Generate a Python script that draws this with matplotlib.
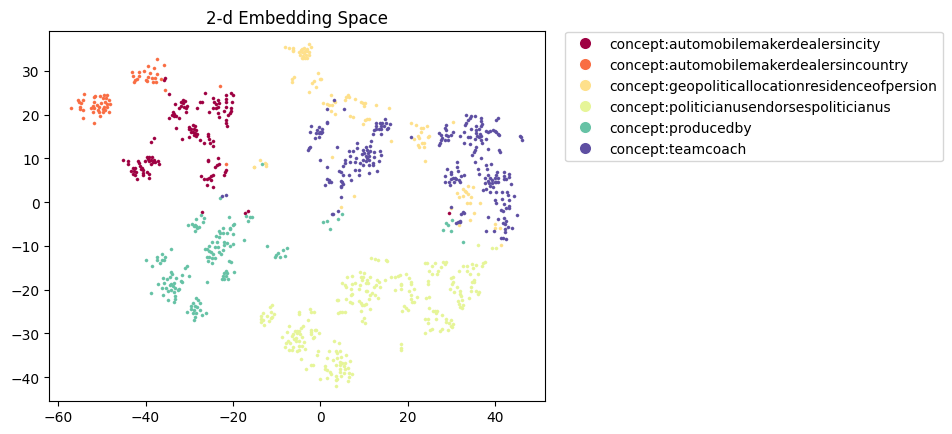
import numpy as np
import matplotlib
matplotlib.use("Agg")
import matplotlib.pyplot as plt
from matplotlib.lines import Line2D

# relation names shown in the legend
labels = ['concept:automobilemakerdealersincity', 'concept:automobilemakerdealersincountry',
          'concept:geopoliticallocationresidenceofpersion', 'concept:politicianusendorsespoliticianus',
          'concept:producedby', 'concept:teamcoach']
colors = ['#9e0142', '#f96d43', '#fee08b', '#e6f598', '#66c2a5', '#5e4fa2']

# points (x, y)
city = [(-35.5,28.3),(-35.8,27.9),(-34.7,24.6),(-26.5,24.9),(-20.4,25.0),(-20.1,24.4),(-21.5,24.4),(-24.6,23.8),(-21.6,23.5),(-20.3,22.8),(-23.5,23.3),(-24.3,22.9),(-23.1,22.6),(-24.0,22.5),(-21.7,22.8),(-23.9,21.5),(-24.5,21.5),(-23.5,21.8),(-21.6,21.8),(-20.4,21.5),(-20.4,20.9),(-22,20.8),(-23.4,20.4),(-25.4,20.5),(-23.3,19.5),(-20.7,20.3),(-21.1,19.9),(-21.7,18.8),(-21.6,18.0),(-21.3,17.4),
        (-27.5,22.8),(-27.2,22.8),(-28.3,21.5),(-33.2,22.3),(-31.5,23.4),(-31.9,22.9),(-31,23.1),(-31.5,22.6),(-31.9,22),(-31.3,21.8),(-30.6,22),(-32.4,21.5),(-30.7,21.4),(-30.7,20.6),(-33.8,20.5),(-33.4,20.1),(-33.9,20),(-33,19.6),(-33.6,19.6),(-34.6,19.2),(-32.3,19.2),(-33,16.9),(-31.7,14.5),
        (-30,17.2),(-29.2,17.6),(-28.7,17.3),(-30,16.7),(-29.5,16.8),(-29,16.7),(-28.4,16.5),(-29.7,16.1),(-29.2,15.9),(-28.7,15.8),(-28.2,15.5),(-29,15.3),(-30.1,14.9),(-28.4,15.1),(-27.5,14.2),(-26.6,13.6),(-25.8,15.6),(-25.8,15),(-25.6,14.5),(-24.6,14),(-25.2,13.6),(-24.5,12.9),(-38,14.6),(-38.7,13.7),
        (-45.1,9.6),(-44.1,9.4),(-43.9,8.7),(-41.7,9.4),(-41.4,8.9),(-41.2,8.3),(-39.7,10.2),(-39.1,10.4),(-38.5,10.3),(-39.5,9.8),(-38.7,9.7),(-38,9.7),(-40.2,9.5),(-39.1,9.3),(-38.4,9.1),(-37.8,9.2),(-37.1,9.5),(-37,8.7),(-38.7,8.8),(-40.7,7.7),(-41,7.5),(-40.5,7.3),(-42.9,7.7),(-42.4,7.7),(-43.3,7),(-42.7,7),(-42.2,6.9),(-42.9,6.5),(-42.4,6.3),(-40.5,6.6),(-39.7,6.8),(-39.3,6.5),(-40.5,6.2),(-42,5.3),(-39.2,5.5),
        (-25.8,9.6),(-25.7,9.3),(-23.4,10),(-23.1,8.8),(-23.6,8.5),(-24.1,8.1),(-21.7,7.3),(-21.9,6.8),(-22,6.2),(-27.4,5.9),(-24.5,6.2),(-25,5.9),(-25.6,5.6),(-25.9,5.3),(-26.7,5.2),(-25.1,5),(-25.9,3.9),(-24.5,3.5),(-27.1,-2.3),(-17.2,-2.4),(-16.5,-2.1),(29.3,-2.5)]

country = [(-37.4,32.7),(-35.8,31.4),(-39.4,31.1),(-38.1,30.6),(-40.3,30),(-43.1,29.8),(-41.6,29.7),(-39,29.5),(-42.8,28.8),(-41.4,28.8),(-37.3,29.2),(-39.5,28.6),(-42,28.2),(-38.6,28.3),(-37.9,28.4),(-36.4,28.1),(-42.3,27.9),(-39.9,27.8),(-38.2,27.4),(-37.6,27.5),(-42.6,27.5),(-39.7,27.6),(-35.6,25.6),(-23,26.6),
           (-54.1,24.7),(-51.5,24.3),(-51.7,23.9),(-50.3,24.2),(-49.6,24.4),(-48.7,24.4),(-49.8,23.7),(-49,23.7),(-48.3,23.4),(-55.5,23.3),(-54.2,23.4),(-54.8,22.6),(-55,21.8),(-51.7,22.8),(-50.1,22.7),(-49.2,22.9),(-48.7,22.4),(-48.1,22.4),(-52.1,22),(-51.2,22.1),(-50.6,21.8),(-49.4,21.8),(-48.7,21.8),(-52.5,21.5),(-51.7,21.4),(-50.9,21.1),(-49.8,21.2),(-49.2,21),(-48.3,20.6),(-54.4,21.1),(-55,21.2),(-57,21.4),(-51.9,20.6),(-50.7,20.6),(-49.8,20.6),(-50.5,19.6),(-54.2,19.1),(-51.7,18),(-55.3,22.9),(-21.6,8.7)]

residence = [(-8.1,35.5),(-7.3,35.2),(-6.3,35.2),(-6.3,34.8),(-6.3,34.4),(-2.7,36.1),(-2.1,35.5),(-4.8,34.3),(-4.3,35),(-3.7,35.3),(-3.1,35),(-2.7,34.3),(-4.6,33.6),(-3.9,33.4),(-3.2,33.6),(-2.7,33.5),(-4.2,34.2),(-3.5,34.4),(-4.3,33),(-3.5,32.8),(-3,33),(-3.7,34),(-4.4,34.7),(-3,34.6),(-4,32.9),
             (-6.1,28.6),(-6.5,28.1),(-6.6,27.5),(-0.5,29.4),(-1.4,27.7),(-2,27.1),(-0.2,28.1),(0.1,28.2),(-1.1,26.2),(-2.7,25.2),(2.4,24.5),(0.5,22.7),(1.5,22.3),(2,22.2),(2.6,22.2),(3.4,22.8),(3.2,23.1),(2.4,20.9),(3.3,20.1),(5.5,23.4),(5.9,23.9),(6.2,24.4),(6.6,24),(7.8,23.6),(9.3,22.9),(10.2,22.6),(9.7,22.6),(10,21.9),(12.6,22.2),(15.7,21.6),(6.8,19.6),(7.5,19.4),(10.1,18.8),(10.6,19),(11.1,19),(9.7,17.8),(16.2,13.9),(2.7,10.2),
             (20.8,18),(21.8,17.7),(22.9,17),(23.5,16.9),(24.4,17.4),(23,15.9),(22.3,15),(22.5,14.7),(24.8,15),(24.6,14.8),(21.3,14.5),(22.3,13.1),(23.2,13.5),(23.7,13.5),(22.5,12.7),(23.7,12.7),(23.9,9.4),(30.3,18.2),
             (33.8,3.7),(34.8,3.5),(32.6,3),(33,2.6),(31.3,2.1),(33.3,2.2),(33.7,1.8),(31.6,1.2),(32.5,1.4),(34.3,1.2),(33.5,-0.3),(34.1,-0.3),(36.5,-0.2),(35.1,-2.4),(34.2,-4),(29.9,-1.4),(31.6,-5.2),(39.8,-5),(39.8,-5.8),(41,-5.8),(41.3,-9.8),(7.6,1.3),(4.8,-1),
             (-13.8,9.7),(-12.6,8.9),(-12.4,8.3),(-12.5,8.6),(-15.3,8.1),(-15.1,8.1)]

endorses = [(35.9,-9.8),(39.1,-10.4),(40.2,-10.4),(11.5,-12.7),(12.4,-13),(13.2,-13.2),(14.9,-13.3),(15.3,-13.4),(23.8,-14),(24.4,-14),(26.1,-14),(25.6,-14.5),(27.9,-13.6),(28.8,-13.7),(28.5,-14.2),(27.6,-14.9),(26.8,-15.8),(26.7,-16.4),(24.8,-15.7),(25.6,-16.5),
            (37.7,-13.6),(37.2,-14),(37,-14.5),(34.7,-14.1),(35.5,-14.3),(32.6,-14.7),(33.4,-14.7),(34.9,-15.1),(31.7,-15.8),(33.6,-15.8),(34.1,-16.3),(35.9,-16.4),(30.3,-17),(29.9,-17.4),(35.1,-17.7),(34.7,-18.3),(35.2,-18.3),(30.2,-18.3),(30,-18.8),(31.1,-19.4),(34.5,-19.4),(34.5,-20.2),(29.6,-19.8),(35.5,-20.2),(36.3,-20.6),(30.6,-20.6),(31.9,-20.4),(32,-21),(35.9,-21),(32.2,-21.5),(34,-21.9),(31.5,-22.5),(32.4,-22.3),(31.7,-23.2),(32.6,-23.4),(31.9,-24),(32.4,-24.2),(24.6,-18.1),(24.6,-18.7),
            (16.2,-17.1),(17,-17),(17.7,-16.9),(18.2,-16.6),(19.6,-16.3),(20.3,-17.4),(20.6,-18.3),(20.7,-18.7),(18.4,-18.7),(18.4,-19),(17.1,-20),(18.4,-19.9),(20.2,-20.2),(21.3,-19.9),(20.8,-21.2),(22,-21.6),(20.7,-22.2),(20.9,-22.7),(21.4,-22.9),(24.2,-22),(24.9,-21.7),(19.2,-23.8),(19.5,-24.2),(20.1,-24.6),(18.7,-24.9),
            (24.9,-24.2),(25.8,-24.9),(26.2,-24.9),(26.7,-24.8),(26.4,-25.4),(27.7,-25.8),(23.8,-26.7),(24.5,-26.8),(26.4,-26.7),(24.5,-27.6),(28.8,-26.7),(29.8,-26.9),(28.8,-27.4),(29.3,-27.7),(30.4,-27.8),(29.9,-28.2),(30.1,-28.6),(29.1,-29.3),(27.7,-29),(27.3,-29.5),(25.6,-29),(25.1,-29.2),(23.9,-29.9),(18.3,-32.4),(18.4,-33.3),(18.4,-33.7),
            (9.1,-15.9),(10,-16.2),(6.1,-17.1),(7.2,-16.9),(9.2,-17),(9.7,-17.2),(11.3,-17.2),(10.6,-17.8),(9.6,-17.8),(14.8,-17.8),(13,-17.7),(13.3,-18.3),(5,-18.4),(7.1,-18.7),(7.9,-18.5),(10.5,-18.5),(10.9,-18.5),(5.5,-18.9),(5.9,-19.4),(9.1,-19),(12.6,-19),(13.5,-19.3),(6.9,-19.8),(8.7,-19.8),(12.3,-19.4),(10.3,-20.4),(10.6,-20.3),(7.2,-21),(7,-21.3),(11.8,-20.8),(11.4,-21.2),(12.5,-21.2),(11,-22.1),(13.1,-21.8),(3.8,-22.3),(4,-22.4),(5.9,-22.2),(8.9,-22.5),(6.7,-22.9),(7.1,-23),(9.2,-23),(10.5,-23.2),(9.9,-23.5),(9.5,-23.6),(9.3,-24.8),(11.4,-24.5),(5.5,-25),(5,-25),(4.4,-25.1),(3.9,-25.4),(10,-26.4),(9.5,-27.1),(10.2,-27.7),
            (-11,-23.6),(-11.6,-23.9),(-11.3,-25),(-10.6,-25.5),(-13.1,-25.4),(-13.5,-26.1),(-12.2,-26.1),(-11.4,-26.4),(-11,-26.3),(-13.7,-26.7),(-13.1,-27),(-11.8,-27.1),(-13.5,-27.3),(-12.8,-28),(-5,-25.1),(-4.8,-25.5),(-2.5,-24.5),(-2.1,-25),(-1.5,-25.2),(-2.9,-26.9),
            (-4.1,-28.2),(-7.2,-28.3),(-4.4,-28.8),(-7.6,-29.6),(-5.9,-29.5),(-5.3,-29.5),(-4.8,-29.5),(-6.3,-30.1),(-5.3,-29.9),(-4.6,-30.1),(-6.5,-30.5),(-8.7,-30.7),(-5.5,-31),(-4.2,-30.9),(-7.4,-31.6),(-6.1,-31.2),(-4.8,-31.7),(-3.8,-32),(-7.8,-32.2),(-6.9,-32.1),(-5.5,-31.8),(-8,-33),(-6.3,-33.1),(-4.8,-32.8),(-4.2,-32.9),(-7.1,-33.7),(-6.6,-33.8),(-5.3,-33.9),(-4.8,-33.7),(-3.5,-33.6),(-4.4,-35.9),
            (-2.2,-29.1),(-1.2,-29.1),(-1,-29.2),(-2.2,-29.7),(-0.3,-29.9),(-2.1,-30.2),(-1.5,-30.8),(-1.6,-31.1),(-0.6,-34),(-0.8,-34.9),
            (3.2,-31.7),(4.2,-32.1),(2,-34),(3.5,-34.1),(3.8,-34.4),(4.4,-33.9),(5.9,-34.8),(1.5,-35.6),(3.8,-35.6),(4.7,-35.4),(2.9,-36),(6.7,-36.2),(4.5,-36.4),(5,-36.8),(5.7,-36.8),(3.6,-37.2),(4.4,-37.3),(5.3,-37.5),(-2.1,-37.2),(-1.6,-37.2),(1.1,-37.5),(1,-38.1),(1.6,-38.3),(4.5,-38.1),(5.5,-38.1),(6.3,-37.9),(-3.2,-38.2),(2.1,-38.8),(2.5,-39.3),(4.4,-38.8),(5.4,-39.1),(6.5,-39.1),(7.2,-39.2),(4.8,-39.8),(3.5,-39.8),(6.5,-40),(1.5,-40.1),(-0.1,-40.4),(3.5,-40.7),(3.8,-40.4),(6.3,-40.9),(3.6,-42.1)]

producedby = [(4.9,-2.7),(4,-3.8),(1.4,-4.3),(0.6,-4.5),(2.1,-6.2),(30.1,-4),(28.7,-4.7),(29.1,-5.3),(28,-6.3),(29.9,-6.6),(32.6,-9.1),(-23,1),(-13.3,8.8),
              (-27.3,-3),(-26.6,-3.6),(-28.5,-3.9),(-26.8,-4.5),(-30.2,-5.2),(-29.4,-5.1),(-28.8,-5.2),(-28.4,-5.4),(-29,-5.5),(-27.8,-5.7),(-28.2,-5.8),(-28.6,-6.7),(-17,-3.1),(-15.6,-3.3),(-16.2,-3.5),(-16.5,-4.4),(-21,-3.5),
              (-19.7,-4.9),(-20,-5.2),(-20.6,-5.8),(-20.8,-6.1),(-22.4,-5.8),(-23.3,-6.5),(-23,-7.1),(-22.4,-7.1),(-21.4,-7),(-20,-7.2),(-23.9,-7.7),(-23.1,-7.9),(-24.9,-9.2),(-23.6,-9),(-22,-9),(-21.4,-9.3),(-22,-9.7),(-20,-9.6),(-20.8,-10.1),(-25.6,-10),(-24.2,-10.3),(-23.5,-10.3),(-26.5,-10.7),(-26,-10.6),(-25.5,-11.1),(-22.3,-11),(-23.3,-11.5),(-22.7,-11.9),(-25,-11.5),(-24.6,-11.9),(-26,-12.6),(-25.4,-12.6),(-24.8,-12.8),(-24.2,-12.8),(-25.8,-13.4),(-24.8,-14),(-21,-13.4),(-20.4,-13.7),
              (-17.5,-8.7),(-12.3,-10.1),(-7.6,-10.4),(-8.5,-10.9),(-9.8,-11.7),(-10.1,-12.1),(-10.4,-12.5),(-9.2,-12.5),(-8.2,-12.4),(-21.6,-15.7),(-22.1,-16.1),(-21.3,-16.2),(-19.8,-15.9),(-22.4,-16.8),(-21.6,-16.8),(-22.5,-17.6),(-22,-17.6),(-21.2,-17.6),(-25.9,-18.3),
              (-34.1,-10.7),(-36.2,-11.9),(-35.5,-12.5),(-37.4,-12.5),(-37.4,-13.3),(-36.2,-13.3),(-35.8,-13.2),(-39.8,-13.3),(-36.8,-14),(-38.5,-14.5),(-30.6,-14.5),(-31,-15.1),(-34.2,-15.9),(-33.9,-16.3),(-31.6,-16.6),(-30,-16.8),(-34.4,-17),(-36.1,-17.3),(-35.2,-17.6),(-33,-17.3),(-31.9,-18.1),(-31.7,-18.3),(-37.1,-18.6),(-35.7,-18.5),(-34.2,-18.6),(-33.6,-18.5),(-34.5,-18.9),(-36.3,-19.5),(-35.3,-19.7),(-33.8,-19.2),(-33.2,-19.7),(-32.3,-19.9),(-34.9,-20.2),(-34.2,-20),(-32.6,-20.1),(-38.7,-20.7),(-33.6,-20.6),(-35.9,-21.2),(-33.3,-21.5),(-34.8,-22.3),(-33.3,-22.1),(-33.4,-22.7),
              (-28.4,-21.8),(-28.1,-22.3),(-29.1,-23),(-27.5,-23.1),(-29.6,-23.7),(-28.7,-23.8),(-28.3,-24),(-29.7,-24.4),(-29,-24.6),(-27.5,-24.6),(-30.6,-25.2),(-29.2,-25.3),(-28.4,-25.4),(-27.2,-25.7),(-26.2,-25.4),(-28.7,-26.2),(-28.9,-26.9)]

teamcoach = [(3,23.4),(1.4,21.2),(5.4,21.2),(1.4,18.2),(1.5,18),(-2.2,17.4),(-0.4,17.2),(0.3,16.8),(-2.3,16.1),(-0.9,16.4),(-0.2,16.1),(0.4,16.1),(-1,15.7),(-0.4,15.7),(0.1,15.7),(-1.2,14.6),(-0.4,14.9),(-2.4,12.7),(-2.6,12.3),(-2.8,11.8),(3.8,12.7),(0,9.6),(1.5,8.1),(-22.5,1.3),(-21.6,1.6),
             (8.4,13.5),(11.6,14),(11.3,12.9),(10.3,12.5),(8.3,12.4),(7.4,11.7),(6.5,11.7),(9.7,11.9),(10.6,11.9),(11.3,11.7),(12.3,11.5),(13.6,11.6),(10,11.2),(10.8,11.2),(9.5,11),(13.9,10.8),(10.3,10.6),(11.2,10.6),(12.2,10.2),(6.8,10.5),(8.1,10.1),(9.7,9.7),(10.6,10),(11.2,9.7),(5.7,9.7),(5.5,8.9),(6.8,9.2),(7.8,9.2),(9.1,9),(10.3,9.3),(12.1,8.9),(13.3,9.3),(9.8,8.5),(11,8.5),(12,8.5),(5.1,8.3),(7.8,7.3),(8.8,7.4),(4.3,7.2),(4.6,6.8),(5.1,6.2),(6.5,6.2),(8.9,6.2),(11,6.6),(13,7),(7,5.1),
             (1.5,5.3),(2,5.1),(1.9,4.6),(2.3,4.7),(1.1,4),(4.6,4.9),(5,4.5),(5.2,4.1),(4.6,3.7),(4.8,3.4),(4.8,1.2),(4.1,-2),(2.6,-2.8),(2.8,-2.7),
             (14.8,19),(12.6,18),(13.5,18),(14.1,18),(15,18),(15.9,17.9),(12.7,17.4),(13.9,17.4),(14.6,17.4),(15.4,17),(13.3,16.8),(12.3,16.5),(12.7,16.6),(13.9,16.8),(15.2,16.7),(13.8,15.5),(12,15.5),
             (33.3,19.9),(34.3,19.6),(35.4,19.7),(34.1,19.1),(33.8,18.7),(33.3,18.1),(33,17.7),(36.7,19.3),(36.8,18.6),(40.6,19.3),(40.2,18.8),(37,17.8),(35.6,17.3),(36.7,17.3),(34.5,16.7),(32.7,16.1),(35.6,16.5),(36.2,16.7),(37.9,16.3),(39.4,16.5),(39.8,16.2),(40.2,15.9),(40.6,15.6),(40.8,15.3),(38.3,15.9),(38.7,16.2),(35.6,15.8),(36.4,15.5),(36.8,15.1),(33.7,14.9),(34.2,14.8),(31.8,15),(35.8,15),(36.2,14.8),(35.4,14.4),(36.6,14.3),(37.9,14.5),(32.9,13.5),(34.1,13.2),(37,13.5),(35.6,12.6),(35.4,12),(35,11.5),(34.7,10.8),(38.3,12.2),(40.9,12),(41.1,11.5),(36.7,10.1),(45.6,15.2),(45.8,14.8),(46,14.3),
             (28.6,17.6),(28.5,17),(28.7,16.5),(27.2,15.8),(27.6,15.4),(28.6,15.4),(29.1,15),(30.3,15.9),(29.9,15.4),(27.8,14.6),(27.6,14.2),(28.5,14.2),(29.1,14.2),(27.4,13.6),(27.1,13),(20.7,14.8),
             (35.3,9.1),(37.9,8.5),(39,8.7),(36,7.6),(38,7.5),(36.3,6.4),(40.4,6.9),(41.9,6.9),(43.2,6.5),(38.3,6.2),(40.2,6.2),(42,6),(43.2,5.8),(37.7,5.4),(38.8,5.6),(39.8,5.5),(40.6,5.5),(41.9,5.3),(42.5,5.3),(38.3,4.9),(39.3,5),(39.8,4.7),(37.5,4.3),(38.5,4.3),(39.2,4.3),(40.2,4.6),(40.6,4.5),(43.5,4.1),(38.7,3.6),(39.4,3.4),(37.9,3.1),(37.1,2.7),(38.8,2.4),(40.2,2.4),(41.5,2.2),(42.7,2.2),(42.8,1.6),(44.2,1.4),(41.6,0.7),(39.8,0.4),(43.2,0.5),(40.2,-0.2),(41.9,-0.4),(43,-0.8),(42.5,-1.4),(43.2,-1.4),(41.3,-1.7),(41.7,-2.1),(44.9,-2.9),(38.3,-3.3),(40.6,-3.9),(41.9,-3.7),(42.5,-4.3),(41.7,-4.8),(42.3,-5),(42.9,-5.6),(43.8,-5.9),(42.1,-6.2),(37.9,-6.6),(39.6,-6.6),(42.1,-6.9),(41.7,-8.1),(41.3,-8.3),(42.5,-8.5),
             (31.2,9.2),(31.2,8.1),(29,7.5),(29.9,6.9),(29.9,6.4),(31.4,7),(32.7,6.3),(32.2,5.9),(28.5,5.9),(30.3,5.6),(30.8,5.5),(29.9,5.3),(31,5.3),(31.6,5),(28.4,4.6),(29.3,4.6),(30.5,4.7),(31.8,4.7),(29.5,3.9),(29.9,-1.2),(32.6,-2.2),(32.2,-2.8),(32.9,-2.5),(31.4,-4.5),(31.8,-4.3),(31,-4.8),(32,-4.5)]

groups = [city, country, residence, endorses, producedby, teamcoach]

fig = plt.figure(figsize=(9.52, 4.35), dpi=100)
ax = fig.add_axes([49.3/952, 33.5/435, 496/952, 369.6/435])

for pts, c in zip(groups, colors):
    arr = np.array(pts)
    ax.scatter(arr[:, 0], arr[:, 1], s=5, color=c, linewidths=0.3)

ax.set_xlim(-62, 51.4)
ax.set_ylim(-45.3, 39.1)
ax.set_title('2-d Embedding Space')

handles = [Line2D([0], [0], marker='o', color='w', markerfacecolor=c, markersize=9, label=l)
           for l, c in zip(labels, colors)]
ax.legend(handles=handles, bbox_to_anchor=(1.04, 0.998), loc=2, borderaxespad=0)

fig.savefig('out.png', dpi=100)
